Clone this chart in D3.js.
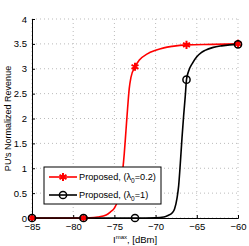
<!DOCTYPE html>
<html>
<head>
<meta charset="utf-8">
<script src="https://cdn.jsdelivr.net/npm/d3@7"></script>
<style>
  body { margin: 0; background: #fff; }
  svg text { font-family: "Liberation Sans", Arial, sans-serif; }
</style>
</head>
<body>
<svg id="chart" width="249" height="246"></svg>
<script>
// curve (x in dBm, y = normalized revenue)
const redX = [-85, -80, -78, -77, -76, -75.5, -75, -74.6, -74.3, -74, -73.8, -73.6, -73.4, -73.2, -73, -72.5, -72, -71, -70, -69, -68, -66.25, -63, -60]
const redY = [0, 0, 0.005, 0.02, 0.06, 0.12, 0.2, 0.35, 0.6, 0.95, 1.3, 1.75, 2.2, 2.6, 2.82, 3.04, 3.17, 3.3, 3.37, 3.42, 3.45, 3.48, 3.49, 3.5]
const blackX = [-85, -72.5, -70, -69, -68.5, -68, -67.7, -67.4, -67.2, -67, -66.8, -66.6, -66.4, -66.25, -66, -65.5, -65, -64.5, -64, -63, -62, -61, -60]
const blackY = [0, 0, 0.005, 0.02, 0.05, 0.1, 0.18, 0.4, 0.65, 1.1, 1.6, 2.05, 2.45, 2.78, 2.95, 3.12, 3.24, 3.32, 3.37, 3.43, 3.46, 3.48, 3.49]
// marker positions
const markX = [-85, -78.75, -72.5, -66.25, -60]
const redMarkY = [0, 0, 3.04, 3.48, 3.5]
const blackMarkY = [0, 0, 0, 2.78, 3.49]

const xTicks = [-85, -80, -75, -70, -65, -60]
const yTicks = [0, 0.5, 1, 1.5, 2, 2.5, 3, 3.5, 4]

const margin = { top: 19, right: 11, bottom: 28, left: 32 }
const width = 249 - margin.left - margin.right
const height = 246 - margin.top - margin.bottom

const svg = d3.select("#chart")
const g = svg.append("g").attr("transform", `translate(${margin.left},${margin.top})`)

const x = d3.scaleLinear().domain([-85, -60]).range([0, width])
const y = d3.scaleLinear().domain([0, 4]).range([height, 0])

// dotted grid
g.selectAll(".gx").data(xTicks).enter().append("line")
  .attr("x1", (d) => x(d)).attr("x2", (d) => x(d))
  .attr("y1", 0).attr("y2", height)
  .attr("stroke", "#bbb").attr("stroke-width", 1).attr("stroke-dasharray", "1,3")
g.selectAll(".gy").data(yTicks).enter().append("line")
  .attr("x1", 0).attr("x2", width)
  .attr("y1", (d) => y(d)).attr("y2", (d) => y(d))
  .attr("stroke", "#bbb").attr("stroke-width", 1).attr("stroke-dasharray", "1,3")

const fmt = (d) => (d < 0 ? "\u2212" + Math.abs(d) : String(d))

const xAxis = g.append("g")
  .attr("transform", `translate(0,${height})`)
  .call(d3.axisBottom(x).tickValues(xTicks).tickSize(-3).tickPadding(5).tickFormat(fmt))
const yAxis = g.append("g")
  .call(d3.axisLeft(y).tickValues(yTicks).tickSize(-3).tickPadding(5).tickFormat((d) => d))
;[xAxis, yAxis].forEach((a) => {
  a.select(".domain").attr("stroke", "#000").attr("stroke-width", 1)
  a.selectAll("text").attr("font-size", 9.5).attr("fill", "#000")
    .attr("font-family", "'Liberation Sans', Arial, sans-serif")
})

const line = d3.line().x((d) => x(d[0])).y((d) => y(d[1])).curve(d3.curveMonotoneX)

g.append("path")
  .datum(d3.zip(redX, redY))
  .attr("d", line).attr("fill", "none").attr("stroke", "#ff0000").attr("stroke-width", 1.6)
g.append("path")
  .datum(d3.zip(blackX, blackY))
  .attr("d", line).attr("fill", "none").attr("stroke", "#000").attr("stroke-width", 1.6)

const star = d3.symbol().type(d3.symbolAsterisk).size(45)
function drawStar(sel, cx, cy) {
  sel.append("path").attr("d", star)
    .attr("transform", `translate(${cx},${cy})`)
    .attr("fill", "none").attr("stroke", "#ff0000").attr("stroke-width", 2)
}
function drawCircle(sel, cx, cy) {
  sel.append("circle").attr("cx", cx).attr("cy", cy).attr("r", 3.6)
    .attr("fill", "none").attr("stroke", "#000").attr("stroke-width", 1.5)
}
markX.forEach((d, i) => drawStar(g, x(d), y(redMarkY[i])))
markX.forEach((d, i) => drawCircle(g, x(d), y(blackMarkY[i])))

// legend
const lg = svg.append("g").attr("transform", "translate(44,167)")
lg.append("rect").attr("width", 117).attr("height", 37)
  .attr("fill", "#fff").attr("stroke", "#000").attr("stroke-width", 1)
const items = [
  { color: "#ff0000", lam: "0.2", mark: drawStar },
  { color: "#000", lam: "1", mark: drawCircle },
]
items.forEach((it, i) => {
  const yy = 10 + i * 18
  lg.append("line").attr("x1", 5).attr("x2", 33).attr("y1", yy).attr("y2", yy)
    .attr("stroke", it.color).attr("stroke-width", 1.6)
  it.mark(lg, 19, yy)
  const t = lg.append("text").attr("x", 35).attr("y", yy + 3).attr("font-size", 9.2)
  t.append("tspan").text("Proposed, (\u03bb")
  t.append("tspan").attr("font-size", 6.5).attr("dy", 2.5).text("0")
  t.append("tspan").attr("dy", -2.5).text("=" + it.lam + ")")
})

// axis titles
svg.append("text")
  .attr("transform", `translate(11,${margin.top + height / 2}) rotate(-90)`)
  .attr("text-anchor", "middle").attr("font-size", 9)
  .text("PU's Normalized Revenue")
const xl = svg.append("text").attr("x", 113).attr("y", 243)
  .attr("text-anchor", "start").attr("font-size", 9.5)
xl.append("tspan").text("I")
xl.append("tspan").attr("font-size", 6).attr("dy", -4.5).text("max")
xl.append("tspan").attr("dy", 4.5).text(", [dBm]")
</script>
</body>
</html>
